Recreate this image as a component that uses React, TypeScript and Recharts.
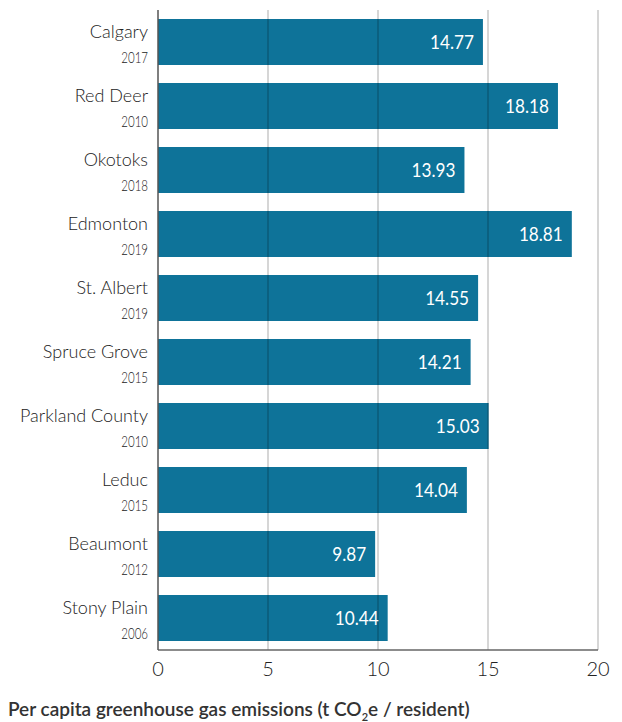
import React from 'react'
import {
  BarChart, Bar, XAxis, YAxis, ReferenceLine, LabelList,
} from 'recharts'

const cities = [
  'Calgary', 'Red Deer', 'Okotoks', 'Edmonton', 'St. Albert',
  'Spruce Grove', 'Parkland County', 'Leduc', 'Beaumont', 'Stony Plain',
]
const years = ['2017', '2010', '2018', '2019', '2019', '2015', '2010', '2015', '2012', '2006']
const emissions = [14.77, 18.18, 13.93, 18.81, 14.55, 14.21, 15.03, 14.04, 9.87, 10.44]
const xTicks = [0, 5, 10, 15, 20]

const data = cities.map((city, i) => ({ city, year: years[i], value: emissions[i] }))

const FONT = 'Lato, "Open Sans", sans-serif'
const BAR_COLOR = '#0e7399'

const CityTick = ({ x, y, payload, index }: any) => {
  const year = years[index] ?? data.find((d) => d.city === payload.value)?.year
  return (
    <g>
      <text x={x} y={y - 4} textAnchor="end" fontSize={18} fontWeight={300} fill="#222" fontFamily={FONT}>
        {payload.value}
      </text>
      {/* years are set in a condensed face in the original */}
      <text transform={`translate(${x},${y + 21}) scale(0.72,1)`} textAnchor="end"
        fontSize={16} fontWeight={300} fill="#222" fontFamily={FONT}>
        {year}
      </text>
    </g>
  )
}

const ValueLabel = ({ x, y, width, height, value }: any) => (
  <text transform={`translate(${x + width - 9},${y + height / 2 + 7}) scale(0.86,1)`}
    textAnchor="end" fontSize={20} fill="#fff" fontFamily={FONT}>
    {Number(value).toFixed(2)}
  </text>
)

export default function App() {
  return (
    <div style={{ position: 'absolute', left: 0, top: 0, width: 622, height: 722, background: '#fff' }}>
      <BarChart
        width={622}
        height={722}
        data={data}
        layout="vertical"
        margin={{ top: 10, right: 24, left: 0, bottom: 42 }}
        barCategoryGap={9}
      >
        <XAxis
          type="number"
          domain={[0, 20]}
          ticks={xTicks}
          tickLine={false}
          axisLine={{ stroke: '#666', strokeWidth: 1.5 }}
          tick={{ fontSize: 20, fill: '#222', fontFamily: FONT, fontWeight: 300 }}
          tickMargin={6}
          height={30}
        />
        <YAxis
          type="category"
          dataKey="city"
          width={158}
          tickLine={false}
          axisLine={{ stroke: '#555', strokeWidth: 1.5 }}
          tick={<CityTick />}
          tickMargin={4}
          interval={0}
        />
        <Bar dataKey="value" fill={BAR_COLOR} barSize={46} isAnimationActive={false}>
          <LabelList dataKey="value" content={<ValueLabel />} />
        </Bar>
        {xTicks.slice(1).map((t) => (
          <ReferenceLine key={t} x={t} stroke="#000" strokeOpacity={0.27} strokeWidth={1.2} />
        ))}
      </BarChart>
      <div style={{
        position: 'absolute', left: 8, top: 697, fontFamily: FONT, fontSize: 19,
        fontWeight: 600, color: '#333', whiteSpace: 'nowrap',
      }}>
        Per capita greenhouse gas emissions (t CO<sub style={{ fontSize: 11 }}>2</sub>e / resident)
      </div>
    </div>
  )
}
